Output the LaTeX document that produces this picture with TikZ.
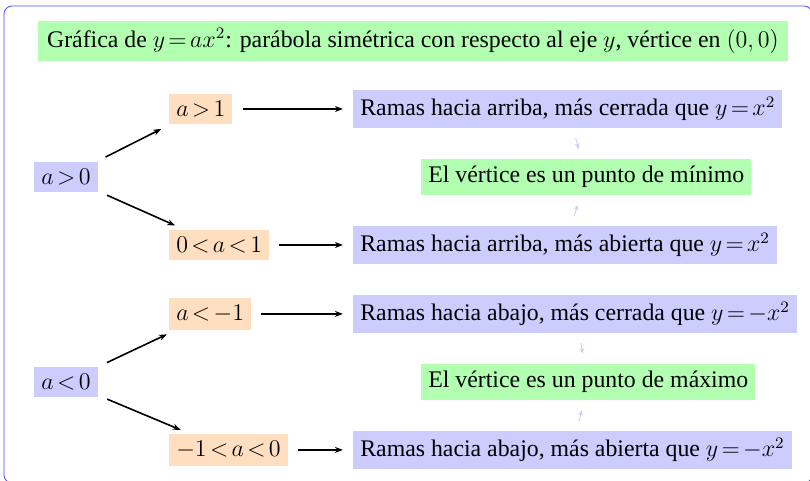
\documentclass[tikz,border=0pt]{standalone}
\usepackage{fontspec}
\setmainfont{Liberation Serif}
\usepackage{amsmath}
\usepackage{tikz}
\usetikzlibrary{positioning, arrows.meta}

\begin{document}
\thickmuskip=2.5mu
\begin{tikzpicture}[
		x=0.5pt, y=-0.5pt,
		every node/.style={
			font=\fontsize{11.9pt}{14pt}\selectfont
		},
		titulo/.style={
			rectangle,
			fill=green!30,
			inner xsep=4.5pt,
			inner ysep=3.5pt
		},
		cond/.style={
			rectangle,
			fill=blue!20,
			inner sep=3.5pt
		},
		caso/.style={
			rectangle,
			fill=orange!25,
			inner sep=3.5pt
		},
		rama/.style={
			rectangle,
			fill=blue!20,
			inner sep=3.5pt
		},
		vert/.style={
			rectangle,
			fill=green!30,
			inner sep=3.5pt
		},
		flecha/.style={
			-{Stealth[length=4pt]},
			thick,
			shorten >=5pt,
			shorten <=5pt
		},
		flechita/.style={
			-{Stealth[length=3pt]},
			blue!20,
			shorten >=5pt,
			shorten <=5pt
		}
		]
		\useasboundingbox (0,0) rectangle (810,481);
		% Frame
		\draw[blue!70, rounded corners=4pt] (4,6) rectangle (812,483);
		% Nodes
		\node[titulo] (tit) at (413,41)
		{Gráfica de $y=ax^2$: parábola simétrica con respecto al eje $y$, vértice en $(0,0)$};
		\node[cond] (apos) at (66,177) {$a>0$};
		\node[caso, right=35.5pt of apos, yshift=34pt]
		(amay)
		{$a>1$};
		\node[caso, right=35.5pt of apos, yshift=-34pt]
		(aent)
		{$0<a<1$};
		\node[rama, right=127.5pt of apos, yshift=34pt]
		(rcerr)
		{Ramas hacia arriba, más cerrada que $y=x^2$};
		\node[rama, right=127.5pt of apos, yshift=-34pt]
		(rabie)
		{Ramas hacia arriba, más abierta que $y=x^2$};
		\node[vert, right=161.5pt of apos]
		(vmin)
		{El vértice es un punto de mínimo};
		\node[cond, below=87pt of apos] (aneg) {$a<0$};
		\node[caso, right=35.5pt of aneg, yshift=34pt]
		(amen)
		{$a<-1$};
		\node[caso, right=35.5pt of aneg, yshift=-34pt]
		(aneg1)
		{$-1<a<0$};
		\node[rama, right=127.5pt of aneg, yshift=34pt]
		(bcerr)
		{Ramas hacia abajo, más cerrada que $y=-x^2$};
		\node[rama, right=127.5pt of aneg, yshift=-34pt]
		(babie)
		{Ramas hacia abajo, más abierta que $y=-x^2$};
		\node[vert, right=161.5pt of aneg]
		(vmax)
		{El vértice es un punto de máximo};
		% Arrows
		\draw[flecha] (apos) -- (amay);
		\draw[flecha] (apos) -- (aent);
		\draw[flecha] (amay) -- (rcerr);
		\draw[flecha] (aent) -- (rabie);
		\draw[flecha] (aneg) -- (amen);
		\draw[flecha] (aneg) -- (aneg1);
		\draw[flecha] (amen) -- (bcerr);
		\draw[flecha] (aneg1) -- (babie);
		\draw[flechita] (rcerr) -- (vmin);
		\draw[flechita] (rabie) -- (vmin);
		\draw[flechita] (bcerr) -- (vmax);
		\draw[flechita] (babie) -- (vmax);
	\end{tikzpicture}
\end{document}
